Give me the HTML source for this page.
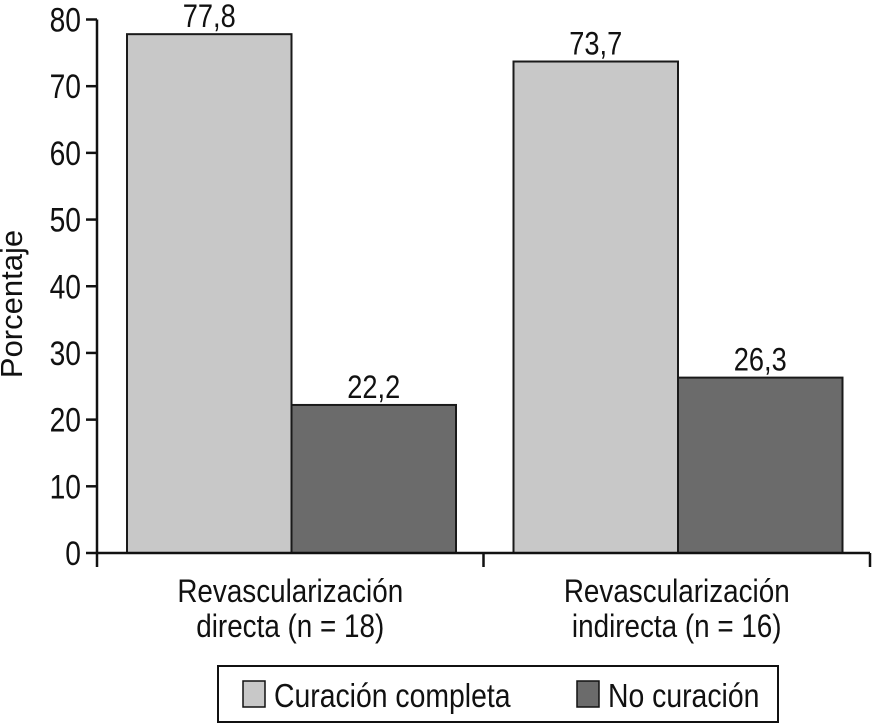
<!DOCTYPE html>
<html><head><meta charset="utf-8"><style>
html,body{margin:0;padding:0;background:#fff}
svg{display:block}
text{font-family:"Liberation Sans",sans-serif;fill:#111}
</style></head><body>
<svg id="chart" width="873" height="725" xmlns="http://www.w3.org/2000/svg">
<g id="g"></g>
</svg>
<script>
const categories = [["Revascularización","directa (n = 18)"],["Revascularización","indirecta (n = 16)"]];
const seriesNames = ["Curación completa","No curación"];
const curacion = [77.8, 73.7];
const noCuracion = [22.2, 26.3];
const yTicks = [0,10,20,30,40,50,60,70,80];
const valueLabels = [["77,8","73,7"],["22,2","26,3"]];
const colors = ["#c8c8c8","#6b6b6b"];

const NS="http://www.w3.org/2000/svg";
const g=document.getElementById('g');
const x0=97, x1=870, y0=553, yTop=19.5, yMax=80;
const y=v=>y0-(v/yMax)*(y0-yTop);
const groupW=(x1-x0)/categories.length;
const xBar=(ci,si)=>x0+ci*groupW+30+si*164.5;
const barW=164.5;
function el(tag,attrs,txt){const e=document.createElementNS(NS,tag);for(const k in attrs)e.setAttribute(k,attrs[k]);if(txt!==undefined)e.textContent=txt;g.appendChild(e);return e;}
function txt(x,yy,s,size,anchor,name,cond){const t=el('text',{x:0,y:0,'font-size':size,'text-anchor':anchor,transform:`translate(${x},${yy}) scale(${cond||0.87},1)`},s);return t;}

const series=[curacion,noCuracion];
series.forEach((vals,si)=>{vals.forEach((v,ci)=>{
  const r=el('rect',{x:xBar(ci,si),y:y(v),width:barW,height:y0-y(v),fill:colors[si],stroke:'#1a1a1a','stroke-width':2});
  
  
  txt(xBar(ci,si)+barW/2,y(v)-7,valueLabels[si][ci],32,'middle','value-label',0.85);
});});

let a=el('line',{x1:x0,y1:y(yMax),x2:x0,y2:y0+14,stroke:'#111','stroke-width':2.5});

a=el('line',{x1:x0,y1:y0,x2:x1,y2:y0,stroke:'#111','stroke-width':2.5});

yTicks.forEach(t=>{
  const l=el('line',{x1:86,y1:y(t),x2:x0,y2:y(t),stroke:'#111','stroke-width':2.5});
  
  txt(81,y(t)+12,String(t),34,'end','y-tick-label',0.83);
});
for(let i=1;i<=categories.length;i++){
  const l=el('line',{x1:x0+i*groupW,y1:y0,x2:x0+i*groupW,y2:y0+14,stroke:'#111','stroke-width':2.5});
  
}
categories.forEach((c,ci)=>{
  const cx=x0+ci*groupW+groupW/2;
  txt(cx,602,c[0],32,'middle','category-label',0.87);
  txt(cx,637,c[1],32,'middle','category-label',0.87);
});
const yt=el('text',{x:0,y:0,'font-size':31,'text-anchor':'middle',transform:'translate(22,304) rotate(-90) scale(1.0,1)'},'Porcentaje');


const lg=el('rect',{x:218,y:666,width:560,height:56,fill:'#fff',stroke:'#111','stroke-width':2});

const legX=[243,577];
seriesNames.forEach((n,i)=>{
  const s=el('rect',{x:legX[i],y:681,width:22,height:26,fill:colors[i],stroke:'#111','stroke-width':1.5});
  
  txt(legX[i]+31,707,n,33,'start','legend-entry',0.86);
});
</script>
</body></html>
